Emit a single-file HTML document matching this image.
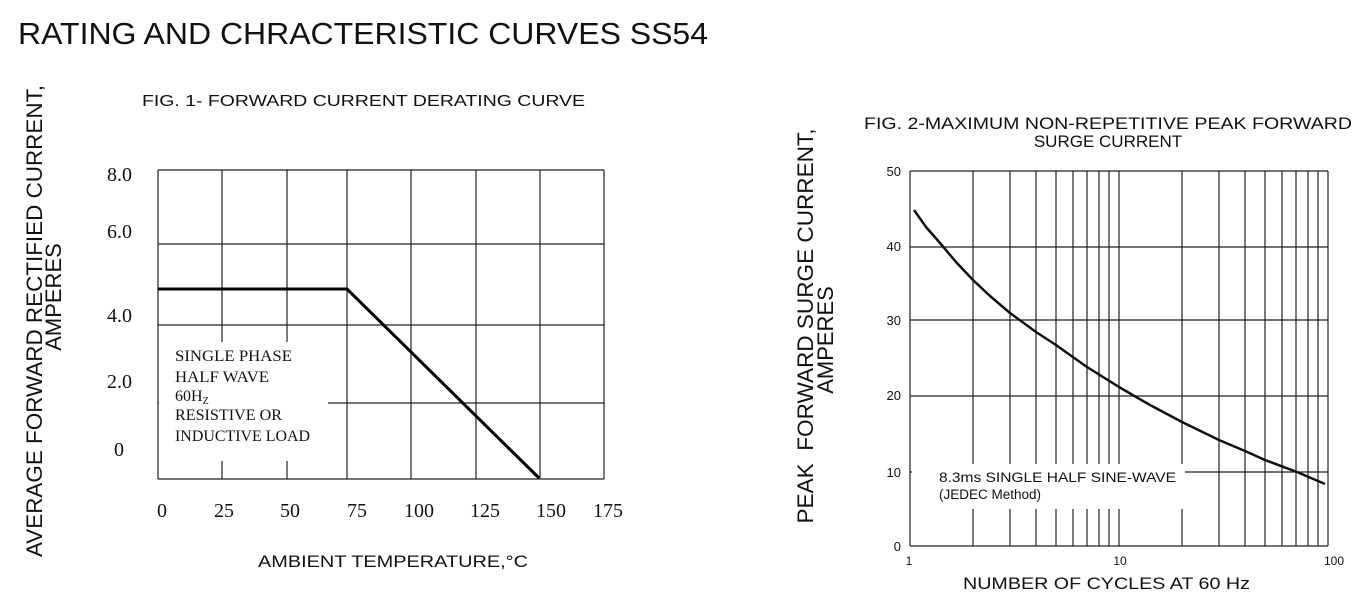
<!DOCTYPE html>
<html><head><style>
html,body{margin:0;padding:0;background:#fff;}
svg{display:block;}
.s{font-family:"Liberation Sans",sans-serif;fill:#111;}
.r{font-family:"Liberation Serif",serif;fill:#111;}
</style></head><body>
<svg width="1370" height="604" viewBox="0 0 1370 604" xmlns="http://www.w3.org/2000/svg">
<text class="s" x="18" y="44" font-size="31" textLength="690" lengthAdjust="spacingAndGlyphs">RATING AND CHRACTERISTIC CURVES SS54</text>
<text class="s" x="142" y="106" font-size="16" textLength="443" lengthAdjust="spacingAndGlyphs">FIG. 1- FORWARD CURRENT DERATING CURVE</text>
<text class="s" x="864" y="129" font-size="17" textLength="488" lengthAdjust="spacingAndGlyphs">FIG. 2-MAXIMUM NON-REPETITIVE PEAK FORWARD</text>
<text class="s" x="1108" y="147" font-size="17" text-anchor="middle">SURGE CURRENT</text>

<!-- Fig 1 -->
<g stroke="#222" stroke-width="1.2">
<line x1="158" y1="170" x2="604" y2="170"/><line x1="158" y1="244" x2="604" y2="244"/>
<line x1="158" y1="325" x2="604" y2="325"/><line x1="158" y1="403" x2="604" y2="403"/>
<line x1="158" y1="479" x2="604" y2="479"/>
<line x1="158" y1="170" x2="158" y2="479"/><line x1="222" y1="170" x2="222" y2="479"/>
<line x1="287" y1="170" x2="287" y2="479"/><line x1="347" y1="170" x2="347" y2="479"/>
<line x1="411" y1="170" x2="411" y2="479"/><line x1="476" y1="170" x2="476" y2="479"/>
<line x1="540" y1="170" x2="540" y2="479"/><line x1="604" y1="170" x2="604" y2="479"/>
</g>
<rect x="159" y="342" width="169" height="119" fill="#fff"/>
<polyline points="158,289 347,289 539,478" fill="none" stroke="#000" stroke-width="3"/>
<g class="r" font-size="16">
<text x="175" y="361" textLength="117" lengthAdjust="spacingAndGlyphs">SINGLE PHASE</text>
<text x="175" y="382" textLength="94" lengthAdjust="spacingAndGlyphs">HALF WAVE</text>
<text x="175" y="401">60H<tspan font-size="10" dy="3">Z</tspan></text>
<text x="175" y="420" textLength="107" lengthAdjust="spacingAndGlyphs">RESISTIVE OR</text>
<text x="175" y="441" textLength="135" lengthAdjust="spacingAndGlyphs">INDUCTIVE LOAD</text>
</g>
<g class="r" font-size="20">
<text x="107" y="181">8.0</text><text x="107" y="238">6.0</text>
<text x="107" y="322">4.0</text><text x="107" y="388">2.0</text>
<text x="114" y="456">0</text>
<g text-anchor="middle">
<text x="162" y="517">0</text><text x="224" y="517">25</text><text x="290" y="517">50</text>
<text x="357" y="517">75</text><text x="419" y="517">100</text><text x="485" y="517">125</text>
<text x="551" y="517">150</text><text x="608" y="517">175</text>
</g></g>
<text class="s" x="258" y="567" font-size="17" textLength="270" lengthAdjust="spacingAndGlyphs">AMBIENT TEMPERATURE,°C</text>
<text class="s" font-size="22" text-anchor="middle" transform="translate(42,321) rotate(-90)" textLength="472" lengthAdjust="spacingAndGlyphs">AVERAGE FORWARD RECTIFIED CURRENT,</text>
<text class="s" font-size="22" text-anchor="middle" transform="translate(61,297) rotate(-90)">AMPERES</text>

<!-- Fig 2 -->
<g stroke="#222" stroke-width="1.2">
<line x1="910" y1="171" x2="1328" y2="171"/><line x1="910" y1="247" x2="1328" y2="247"/>
<line x1="910" y1="320" x2="1328" y2="320"/><line x1="910" y1="396" x2="1328" y2="396"/>
<line x1="910" y1="472" x2="1328" y2="472"/><line x1="910" y1="546" x2="1328" y2="546"/>
<line x1="910" y1="171" x2="910" y2="546"/>
<line x1="973" y1="171" x2="973" y2="546"/><line x1="1010" y1="171" x2="1010" y2="546"/>
<line x1="1036" y1="171" x2="1036" y2="546"/><line x1="1056" y1="171" x2="1056" y2="546"/>
<line x1="1073" y1="171" x2="1073" y2="546"/><line x1="1087" y1="171" x2="1087" y2="546"/>
<line x1="1099" y1="171" x2="1099" y2="546"/><line x1="1109" y1="171" x2="1109" y2="546"/>
<line x1="1119" y1="171" x2="1119" y2="546"/>
<line x1="1182" y1="171" x2="1182" y2="546"/><line x1="1219" y1="171" x2="1219" y2="546"/>
<line x1="1245" y1="171" x2="1245" y2="546"/><line x1="1265" y1="171" x2="1265" y2="546"/>
<line x1="1282" y1="171" x2="1282" y2="546"/><line x1="1296" y1="171" x2="1296" y2="546"/>
<line x1="1308" y1="171" x2="1308" y2="546"/><line x1="1318" y1="171" x2="1318" y2="546"/>
<line x1="1328" y1="171" x2="1328" y2="546"/>
</g>
<rect x="912" y="464" width="273" height="45" fill="#fff"/>
<polyline points="914,210 926,227 940,243 956,262 973,280 990,296 1010,313 1036,332 1056,345 1070,355 1087,367 1103,377 1119,387 1150,405 1182,422 1219,440 1245,451 1265,460 1297,472 1325,484" fill="none" stroke="#111" stroke-width="2.5" stroke-linejoin="round"/>
<g class="s" font-size="13.5">
<text x="939" y="482" textLength="237" lengthAdjust="spacingAndGlyphs">8.3ms SINGLE HALF SINE-WAVE</text>
<text x="939" y="499">(JEDEC Method)</text>
</g>
<g class="s" font-size="13" text-anchor="end">
<text x="901" y="176">50</text><text x="901" y="251">40</text><text x="901" y="325">30</text>
<text x="901" y="400">20</text><text x="901" y="477">10</text><text x="901" y="551">0</text>
</g>
<g class="s" font-size="12" text-anchor="middle">
<text x="909" y="565">1</text><text x="1120" y="565">10</text><text x="1334" y="565">100</text>
</g>
<text class="s" x="963" y="589" font-size="17" textLength="287" lengthAdjust="spacingAndGlyphs">NUMBER OF CYCLES AT 60 Hz</text>
<text class="s" font-size="22" text-anchor="middle" transform="translate(813,326) rotate(-90)" xml:space="preserve" textLength="395" lengthAdjust="spacingAndGlyphs">PEAK  FORWARD SURGE CURRENT,</text>
<text class="s" font-size="22" text-anchor="middle" transform="translate(833,340) rotate(-90)">AMPERES</text>
</svg>
</body></html>
